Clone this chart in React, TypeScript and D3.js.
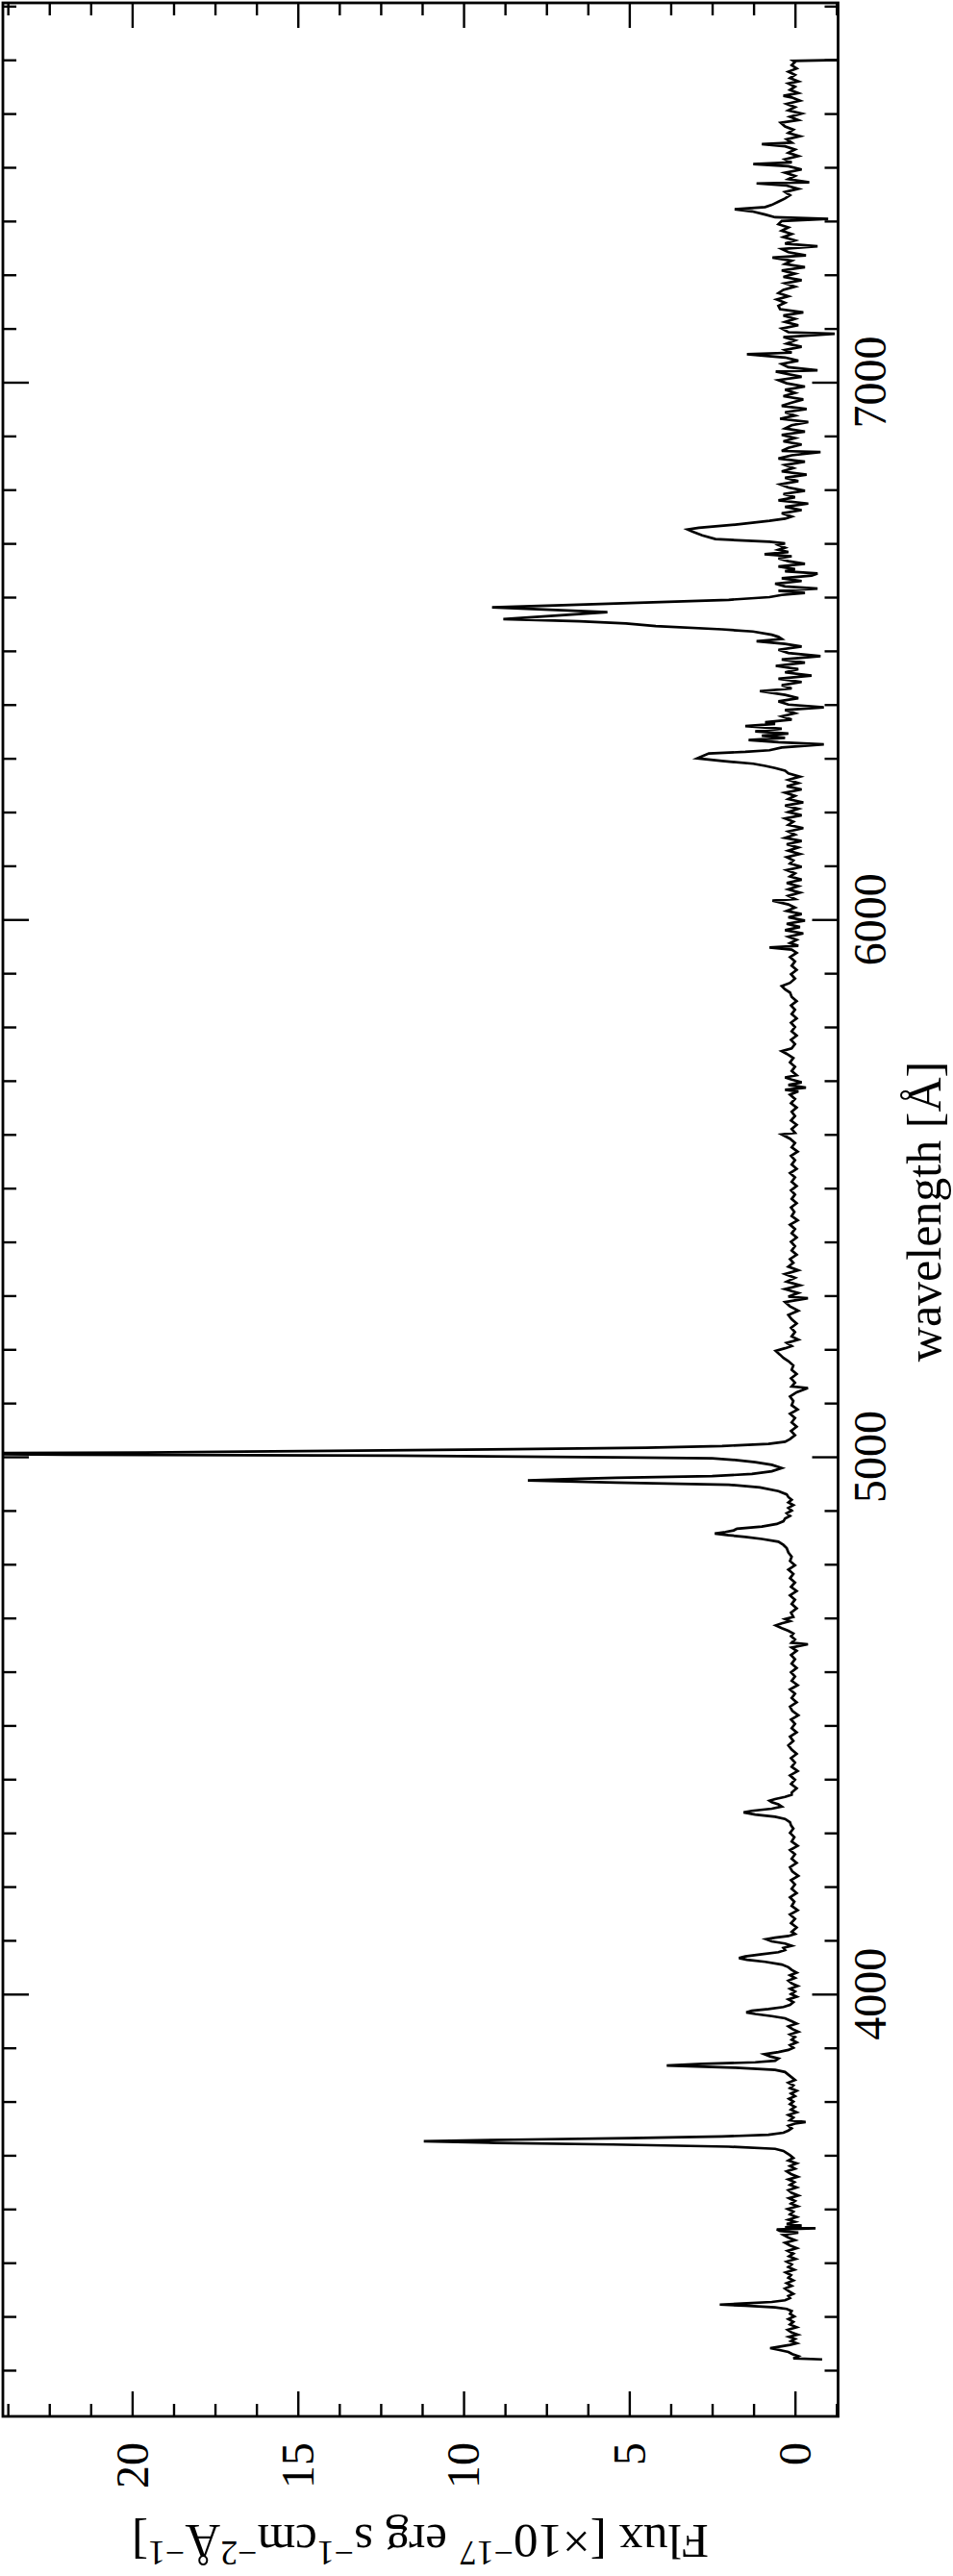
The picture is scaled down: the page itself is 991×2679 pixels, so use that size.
import { useEffect, useRef } from "react";
import * as d3 from "d3";

// spectrum: [wavelength (Å), flux (1e-17 erg/s/cm2/Å)]
const spectrumUV: [number, number][] = [
  [3320, -0.82], [3322, 0.05], [3326, -0.1], [3330, 0.08], [3334, 0.2], [3338, 0.5], [3341, 0.75], [3344, 0.45],
  [3347, 0.15], [3350, -0.05], [3354, 0.12], [3358, 0.0], [3362, 0.18], [3366, -0.08], [3370, 0.1], [3375, 0.22],
  [3380, -0.05], [3385, 0.15], [3390, 0.05], [3395, 0.2], [3400, 0.02], [3405, 0.15], [3410, 0.1], [3414, 0.25],
  [3417, 0.6], [3420, 1.5], [3422, 2.27], [3424, 1.6], [3427, 0.7], [3430, 0.3], [3434, 0.15], [3438, 0.2],
  [3442, 0.05], [3447, 0.18], [3452, 0.3], [3457, 0.1], [3462, 0.25], [3467, 0.05], [3472, 0.2], [3477, 0.12],
  [3482, 0.28], [3487, 0.02], [3492, 0.2], [3497, 0.1], [3502, 0.25], [3507, -0.02], [3512, 0.18], [3517, 0.05],
  [3522, 0.22], [3527, -0.05], [3532, 0.15], [3537, 0.3], [3542, 0.0], [3547, 0.2], [3552, 0.35], [3556, -0.1],
  [3559, 0.45], [3562, 0.55], [3564, -0.62], [3566, 0.3], [3569, -0.2], [3572, 0.25], [3576, 0.0], [3580, 0.2],
  [3585, -0.05], [3590, 0.15], [3595, 0.05], [3600, 0.22], [3605, -0.08], [3610, 0.12], [3615, 0.0], [3620, 0.18],
  [3625, -0.1], [3630, 0.1], [3635, 0.2], [3640, -0.05], [3645, 0.15], [3650, 0.02], [3655, 0.2], [3660, -0.08],
  [3665, 0.12], [3670, 0.25], [3675, 0.0], [3680, 0.15], [3685, -0.05], [3690, 0.2], [3695, 0.05], [3700, 0.15],
  [3704, 0.25], [3708, 0.35], [3712, 0.6], [3716, 2.0], [3720, 5.5], [3723, 9.0], [3726, 11.2], [3729, 8.5],
  [3732, 5.0], [3735, 2.2], [3738, 0.8], [3742, 0.35], [3746, 0.2],
];

const spectrumBlue: [number, number][] = [
  [3750, 0.1], [3755, 0.2], [3759, 0.0], [3762, -0.32], [3765, 0.15], [3770, 0.05], [3775, 0.2], [3780, -0.05],
  [3785, 0.12], [3790, 0.0], [3795, 0.15], [3800, 0.05], [3805, 0.18], [3810, 0.0], [3815, 0.12], [3820, -0.05],
  [3825, 0.15], [3830, 0.05], [3835, 0.2], [3840, 0.0], [3845, 0.1], [3850, 0.2], [3855, 0.3], [3859, 0.6],
  [3863, 1.8], [3867, 3.87], [3870, 2.8], [3873, 1.2], [3876, 0.6], [3880, 0.5], [3884, 0.75], [3888, 0.92],
  [3892, 0.5], [3896, 0.2], [3900, 0.05], [3905, 0.15], [3910, -0.05], [3915, 0.1], [3920, 0.0], [3925, 0.15],
  [3930, -0.1], [3935, 0.08], [3940, 0.2], [3945, -0.05], [3950, 0.12], [3955, 0.3], [3959, 0.7], [3963, 1.2],
  [3966, 1.47], [3969, 1.3], [3972, 0.8], [3976, 0.35], [3980, 0.15], [3985, 0.05], [3990, 0.2], [3995, -0.05],
  [4000, 0.12], [4005, 0.0], [4010, 0.15], [4015, -0.08], [4020, 0.1], [4025, 0.2], [4030, 0.0], [4035, 0.15],
  [4040, -0.05], [4045, 0.1], [4050, 0.2], [4055, 0.4], [4060, 0.9], [4064, 1.45], [4067, 1.69], [4070, 1.5],
  [4074, 1.0], [4078, 0.5], [4082, 0.3], [4086, 0.35], [4090, 0.1], [4094, 0.3], [4098, 0.7], [4102, 0.87],
  [4105, 0.6], [4108, 0.2], [4112, 0.0], [4116, 0.1], [4124, -0.05], [4132, 0.12], [4140, 0.0], [4148, 0.15],
  [4156, -0.08], [4164, 0.1], [4172, 0.02], [4180, 0.15], [4188, -0.05], [4196, 0.1], [4204, 0.0], [4212, 0.12],
  [4220, -0.1], [4228, 0.08], [4236, 0.15], [4244, -0.05], [4252, 0.1], [4260, 0.0], [4268, 0.15], [4276, -0.08],
  [4284, 0.1], [4292, 0.02], [4300, 0.15], [4308, 0.05], [4314, 0.12], [4320, 0.15], [4326, 0.3], [4330, 0.6],
  [4334, 1.2], [4338, 1.55], [4341, 1.3], [4345, 0.7], [4349, 0.4], [4353, 0.5], [4357, 0.7], [4360, 0.77],
  [4363, 0.6], [4367, 0.3], [4371, 0.1], [4375, 0.1], [4383, -0.05], [4391, 0.12], [4399, 0.0], [4407, 0.15],
  [4415, -0.08], [4423, 0.1], [4431, 0.0], [4439, 0.12], [4447, -0.05], [4455, 0.1], [4463, 0.2], [4471, 0.05],
  [4479, 0.15], [4487, -0.05], [4495, 0.1], [4503, 0.0], [4511, 0.12], [4519, -0.1], [4527, 0.08], [4535, 0.15],
  [4543, -0.05], [4551, 0.1], [4559, 0.0], [4567, 0.15], [4575, -0.08], [4583, 0.1], [4591, 0.0], [4599, 0.12],
  [4607, -0.05], [4615, 0.1], [4623, 0.0], [4631, 0.12], [4639, -0.05], [4645, 0.1], [4651, -0.39], [4654, 0.1],
  [4660, 0.0], [4666, 0.12], [4671, 0.05], [4676, 0.2], [4681, 0.4], [4686, 0.58], [4690, 0.4], [4694, 0.15],
  [4698, 0.3], [4702, 0.05], [4710, 0.12], [4718, -0.05], [4726, 0.1], [4734, 0.0], [4742, 0.15], [4750, -0.05],
  [4758, 0.12], [4766, 0.0], [4774, 0.15], [4782, 0.05], [4790, 0.2], [4798, 0.0], [4806, 0.15], [4814, 0.1],
  [4822, 0.2],
];

const spectrumGreen: [number, number][] = [
  [4830, 0.25], [4836, 0.35], [4842, 0.5], [4847, 1.0], [4851, 1.5], [4854, 2.0], [4857, 2.42], [4860, 2.1],
  [4863, 1.85], [4866, 1.75], [4870, 1.0], [4875, 0.55], [4880, 0.35], [4885, 0.3], [4890, 0.15], [4895, 0.25],
  [4900, 0.1], [4905, 0.2], [4910, 0.05], [4915, 0.2], [4920, 0.1], [4925, 0.2], [4930, 0.25], [4936, 0.5],
  [4943, 1.06], [4948, 2.0], [4952, 5.4], [4956, 8.06], [4959, 6.5], [4961, 5.4], [4964, 2.5], [4968, 1.3],
  [4973, 0.7], [4979, 0.4], [4985, 0.7], [4990, 1.2], [4994, 1.8], [4997, 2.5], [4999, 5.4], [5002, 12],
  [5004, 22], [5006, 27], [5008, 19.6], [5011, 14], [5014, 8.5], [5017, 4.5], [5020, 2.2], [5024, 0.8],
  [5028, 0.3], [5033, 0.15], [5040, 0.0], [5048, 0.12], [5056, -0.05], [5064, 0.1], [5072, 0.0], [5080, 0.15],
  [5088, -0.08], [5096, 0.1], [5104, 0.05], [5112, 0.15], [5120, -0.05], [5128, -0.39], [5131, 0.1], [5138, 0.0],
  [5146, 0.12], [5154, -0.05], [5162, 0.1], [5170, 0.05], [5178, 0.2], [5184, 0.35], [5190, 0.45], [5197, 0.58],
  [5202, 0.3], [5206, 0.1], [5212, 0.25], [5218, -0.1], [5224, 0.1], [5232, 0.0], [5240, 0.12], [5248, -0.05],
  [5256, 0.1], [5264, 0.2], [5272, -0.1], [5280, 0.15], [5288, 0.3], [5295, -0.39], [5298, 0.2], [5305, -0.1],
  [5312, 0.3], [5319, -0.15], [5326, 0.25], [5333, 0.0], [5340, 0.3], [5347, -0.1], [5354, 0.2], [5361, 0.05],
  [5368, 0.15], [5376, -0.05], [5384, 0.1], [5392, 0.0], [5400, 0.12], [5408, -0.05], [5416, 0.1], [5424, 0.0],
  [5432, 0.15], [5440, -0.08], [5448, 0.1], [5456, 0.02], [5464, 0.12], [5472, -0.05], [5480, 0.1], [5488, 0.0],
  [5496, 0.12], [5504, -0.05], [5512, 0.1], [5520, 0.0], [5528, 0.15], [5536, -0.05], [5544, 0.1], [5552, 0.0],
  [5560, 0.12], [5568, -0.08], [5576, 0.1], [5584, 0.0], [5592, 0.15], [5600, 0.4], [5603, 0.0], [5610, 0.1],
  [5618, -0.05], [5626, 0.12], [5634, 0.0], [5642, 0.1], [5650, -0.05], [5658, 0.12], [5666, 0.0], [5674, 0.15],
  [5680, -0.1], [5683, 0.3], [5687, -0.33], [5692, 0.2], [5697, -0.2], [5702, 0.1], [5706, 0.3], [5710, -0.05],
  [5718, 0.1], [5726, 0.0], [5734, 0.15], [5742, 0.05], [5750, 0.25], [5755, 0.4], [5760, 0.1], [5768, 0.0],
  [5776, 0.12], [5784, -0.05], [5792, 0.1], [5800, 0.0], [5808, 0.12], [5816, -0.05], [5824, 0.1], [5832, 0.0],
  [5840, 0.12], [5848, -0.05], [5856, 0.1], [5864, 0.15], [5870, 0.3], [5876, 0.4], [5882, 0.15], [5890, 0.0],
  [5898, 0.12], [5906, -0.05], [5914, 0.1], [5922, 0.0], [5930, 0.15], [5938, -0.05], [5944, 0.1], [5948, 0.77],
  [5951, -0.1], [5956, 0.15], [5962, -0.05], [5968, 0.2], [5974, -0.25], [5980, 0.3], [5986, -0.15], [5992, 0.25],
  [5998, -0.3], [6004, 0.2], [6010, -0.2], [6016, 0.25], [6022, 0.0], [6028, 0.2], [6035, 0.68],
];

const spectrumRed: [number, number][] = [
  [6038, 0.0], [6044, 0.2], [6050, -0.15], [6056, 0.2], [6062, -0.1], [6068, 0.25], [6074, -0.2], [6080, 0.15],
  [6086, 0.0], [6092, 0.25], [6098, -0.2], [6104, 0.15], [6110, 0.05], [6116, 0.25], [6122, -0.15], [6128, 0.2],
  [6134, -0.1], [6140, 0.25], [6146, -0.2], [6152, 0.3], [6158, 0.0], [6164, 0.2], [6170, -0.25], [6176, 0.2],
  [6182, 0.05], [6188, 0.3], [6194, -0.2], [6200, 0.2], [6206, -0.1], [6212, 0.3], [6218, -0.25], [6224, 0.2],
  [6230, 0.0], [6236, 0.3], [6242, -0.2], [6248, 0.25], [6254, -0.1], [6260, 0.2], [6266, -0.15], [6272, 0.2],
  [6277, 0.3], [6282, 0.6], [6286, 0.9], [6290, 1.26], [6295, 2.2], [6300, 2.95], [6304, 2.8], [6309, 2.6],
  [6312, 1.5], [6315, 0.77], [6320, 0.4], [6326, -0.87], [6330, 0.5], [6334, 1.4], [6338, 0.3], [6342, 1.0],
  [6346, 0.2], [6350, 1.2], [6355, 0.4], [6360, 1.5], [6364, 0.6], [6367, 0.9], [6372, 0.1], [6378, 0.4],
  [6384, 0.0], [6390, 0.3], [6395, -0.87], [6400, 0.2], [6406, 0.5], [6412, -0.1], [6418, 0.3], [6425, 1.06],
  [6430, 0.1], [6436, 0.4], [6442, -0.2], [6448, 0.5], [6454, -0.5], [6460, 0.3], [6466, -0.1], [6472, 0.58],
  [6478, -0.3], [6484, 0.4], [6490, -0.77], [6496, 0.2], [6502, 0.5], [6508, -0.2], [6513, 0.3], [6518, 1.16],
  [6522, 0.4], [6526, 0.5], [6530, 0.7], [6536, 1.27], [6540, 2.2], [6546, 4.2], [6551, 5.1], [6555, 6.5],
  [6559, 8.8], [6572, 5.66], [6581, 9.14], [6585, 7.0], [6590, 4.5], [6595, 2.0], [6600, 0.77], [6604, 0.4],
  [6608, -0.3], [6612, 0.5], [6616, -0.68], [6620, 0.3], [6625, 0.6], [6630, -0.2], [6635, 0.4], [6640, -0.5],
  [6644, -0.68], [6648, 0.3], [6652, 0.0], [6657, 0.5], [6662, -0.3], [6667, 0.2], [6672, 0.5], [6676, 0.1],
  [6680, 0.92], [6684, 0.2], [6688, 0.5], [6692, 0.3], [6697, 0.5], [6700, 0.3], [6703, 0.77], [6708, 2.4],
  [6715, 2.8], [6722, 3.1], [6726, 3.24], [6729, 2.9], [6735, 1.8], [6742, 0.77], [6746, 0.3], [6750, 0.1],
  [6756, 0.4], [6762, -0.2], [6768, 0.3], [6774, -0.4], [6780, 0.5], [6786, 0.0], [6792, 0.35], [6798, -0.3],
  [6804, 0.2], [6810, 0.45], [6816, -0.1], [6822, 0.3], [6828, -0.35], [6834, 0.4], [6840, 0.05], [6846, 0.3],
  [6852, -0.3], [6858, 0.5], [6864, 0.1], [6870, -0.77], [6872, 0.4], [6878, 0.2], [6884, -0.2], [6890, 0.35],
  [6896, 0.0], [6902, 0.4], [6908, -0.3], [6914, 0.3], [6920, 0.1], [6926, -0.4], [6932, 0.45], [6938, 0.0],
  [6944, 0.3], [6950, -0.35], [6956, 0.4], [6962, 0.1], [6968, -0.25], [6974, 0.35], [6980, 0.0], [6986, 0.3],
  [6992, -0.3], [6998, 0.25], [7004, 0.5], [7010, -0.2], [7016, 0.3], [7020, 0.58], [7022, -0.68], [7028, 0.2],
  [7034, 0.4], [7040, -0.1], [7046, 0.3], [7052, 1.45], [7055, 0.1], [7060, 0.3], [7066, -0.2], [7072, 0.25],
  [7078, 0.0], [7084, 0.35], [7090, -1.2], [7093, 0.2], [7100, 0.4], [7106, -0.1], [7112, 0.3], [7118, 0.0],
  [7124, 0.35], [7130, -0.25], [7136, 0.45], [7142, 0.5], [7148, 0.3], [7154, 0.55], [7160, 0.2], [7166, 0.5],
  [7172, 0.35], [7178, 0.0], [7184, 0.3], [7190, -0.2], [7196, 0.35], [7202, 0.0], [7208, 0.4], [7214, -0.3],
  [7220, 0.3], [7226, 0.1], [7232, 0.68], [7236, -0.33], [7242, 0.2], [7248, 0.4], [7253, -0.68], [7258, 0.3],
  [7264, 0.0], [7270, 0.35], [7276, 0.1], [7282, 0.4], [7288, 0.2], [7294, 0.5], [7300, 0.4], [7304, -1.0],
  [7307, 0.6], [7312, 0.9], [7318, 1.3], [7322, 1.82], [7326, 0.9], [7330, 0.7], [7336, 0.5], [7342, 0.3],
  [7348, 0.15], [7354, 0.3], [7360, -0.1], [7366, 0.25], [7370, 1.16], [7372, -0.43], [7378, 0.2], [7384, 0.0],
  [7390, 0.3], [7396, -0.2], [7402, 0.2], [7406, 1.26], [7409, 0.1], [7415, 0.3], [7421, -0.1], [7427, 0.2],
  [7433, 0.0], [7439, 0.3], [7443, 1.0], [7446, 0.1], [7452, 0.25], [7458, -0.15], [7464, 0.2], [7470, 0.05],
  [7476, 0.3], [7483, 0.43], [7488, -0.1], [7494, 0.15], [7500, -0.2], [7506, 0.2], [7512, 0.0], [7518, 0.25],
  [7524, -0.15], [7530, 0.1], [7533, 0.35], [7538, -0.1], [7544, 0.15], [7550, 0.0], [7556, 0.2], [7560, -0.1],
  [7566, 0.15], [7572, 0.0], [7578, 0.2], [7584, -0.05], [7590, 0.1], [7596, 0.0], [7598, 0.05], [7600, -1.5],
];

const wavelengthLabels = [4000, 5000, 6000, 7000];
const wavelengthMinor = [
  3300, 3400, 3500, 3600, 3700, 3800, 3900, 4100, 4200, 4300, 4400, 4500, 4600, 4700, 4800, 4900,
  5100, 5200, 5300, 5400, 5500, 5600, 5700, 5800, 5900, 6100, 6200, 6300, 6400, 6500, 6600, 6700,
  6800, 6900, 7100, 7200, 7300, 7400, 7500, 7600, 7700,
];
const fluxLabels = [0, 5, 10, 15, 20];
const fluxMinor = [-1.25, 1.25, 2.5, 3.75, 6.25, 7.5, 8.75, 11.25, 12.5, 13.75, 16.25, 17.5, 18.75, 21.25, 22.5, 23.75];

const W = 991;
const H = 2679;
const frame = { left: 3, right: 871.5, top: 3, bottom: 2513 };
const font = "'Liberation Serif', 'Times New Roman', serif";

export default function App() {
  const ref = useRef<SVGSVGElement>(null);

  useEffect(() => {
    const svg = d3.select(ref.current);
    svg.selectAll("*").remove();

    // rotated plot: wavelength runs up the page, flux runs right-to-left
    const yWave = d3.scaleLinear().domain([3214, 7706]).range([frame.bottom, frame.top]);
    const xFlux = d3.scaleLinear().domain([-1.3, 23.9]).range([frame.right, frame.left]);

    svg.append("rect").attr("width", W).attr("height", H).attr("fill", "#fff");

    svg
      .append("defs")
      .append("clipPath")
      .attr("id", "plot-clip")
      .append("rect")
      .attr("x", frame.left)
      .attr("y", frame.top)
      .attr("width", frame.right - frame.left)
      .attr("height", frame.bottom - frame.top);

    const spectrum = [...spectrumUV, ...spectrumBlue, ...spectrumGreen, ...spectrumRed];
    const line = d3
      .line<[number, number]>()
      .x((d) => xFlux(d[1]))
      .y((d) => yWave(d[0]));

    svg
      .append("path")
      .datum(spectrum)
      .attr("clip-path", "url(#plot-clip)")
      .attr("d", line)
      .attr("fill", "none")
      .attr("stroke", "#000")
      .attr("stroke-width", 2.7);

    const ticks = svg.append("g");
    const drawAxis = (axis: any, transform: string) => {
      const g = ticks.append("g").attr("transform", transform).call(axis);
      g.select(".domain").remove();
      g.selectAll("text").remove();
      g.selectAll("line").attr("stroke", "#000").attr("stroke-width", 2.4);
    };

    // wavelength ticks, right and left frame, pointing inward
    drawAxis(d3.axisRight(yWave).tickValues(wavelengthMinor).tickSize(-14), `translate(${frame.right},0)`);
    drawAxis(d3.axisRight(yWave).tickValues(wavelengthLabels).tickSize(-27), `translate(${frame.right},0)`);
    drawAxis(d3.axisLeft(yWave).tickValues(wavelengthMinor).tickSize(-14), `translate(${frame.left},0)`);
    drawAxis(d3.axisLeft(yWave).tickValues(wavelengthLabels).tickSize(-27), `translate(${frame.left},0)`);

    // flux ticks, bottom and top frame
    drawAxis(d3.axisBottom(xFlux).tickValues(fluxMinor).tickSize(-13), `translate(0,${frame.bottom})`);
    drawAxis(d3.axisBottom(xFlux).tickValues(fluxLabels).tickSize(-26), `translate(0,${frame.bottom})`);
    drawAxis(d3.axisTop(xFlux).tickValues(fluxMinor).tickSize(-13), `translate(0,${frame.top})`);
    drawAxis(d3.axisTop(xFlux).tickValues(fluxLabels).tickSize(-26), `translate(0,${frame.top})`);

    svg
      .append("rect")
      .attr("x", frame.left)
      .attr("y", frame.top)
      .attr("width", frame.right - frame.left)
      .attr("height", frame.bottom - frame.top)
      .attr("fill", "none")
      .attr("stroke", "#000")
      .attr("stroke-width", 2.8);

    // wavelength tick labels
    svg
      .append("g")
      .selectAll("text")
      .data(wavelengthLabels)
      .join("text")
      .attr("x", 921)
      .attr("y", (d) => yWave(d))
      .attr("transform", (d) => `rotate(-90, 921, ${yWave(d)})`)
      .attr("text-anchor", "middle")
      .attr("font-family", font)
      .attr("font-size", 48)
      .text((d) => d);

    // flux tick labels
    svg
      .append("g")
      .selectAll("text")
      .data(fluxLabels)
      .join("text")
      .attr("x", (d) => xFlux(d))
      .attr("y", 2540)
      .attr("dy", "0.34em")
      .attr("transform", (d) => `rotate(-90, ${xFlux(d)}, 2540)`)
      .attr("text-anchor", "end")
      .attr("font-family", font)
      .attr("font-size", 48)
      .text((d) => d);

    // wavelength title
    svg
      .append("text")
      .attr("x", 978)
      .attr("y", 1260)
      .attr("transform", "rotate(-90, 978, 1260)")
      .attr("text-anchor", "middle")
      .attr("font-family", font)
      .attr("font-size", 50)
      .text("wavelength [Å]");

    // flux title, upside down
    const titleY = 2626;
    const title = svg
      .append("text")
      .attr("x", 437)
      .attr("y", titleY)
      .attr("transform", `rotate(180, 437, ${titleY})`)
      .attr("text-anchor", "middle")
      .attr("font-family", font)
      .attr("font-size", 51);
    const parts: [string, boolean][] = [
      ["Flux [×10", false],
      ["−17", true],
      [" erg s", false],
      ["−1", true],
      ["cm", false],
      ["−2", true],
      ["Å", false],
      ["−1", true],
      ["]", false],
    ];
    let raised = false;
    parts.forEach(([s, sup]) => {
      const t = title.append("tspan").text(s);
      if (sup) {
        t.attr("font-size", 36).attr("dy", raised ? 0 : -17);
        raised = true;
      } else {
        t.attr("dy", raised ? 17 : 0);
        raised = false;
      }
    });
  }, []);

  return (
    <svg
      ref={ref}
      width={W}
      height={H}
      style={{ position: "absolute", left: 0, top: 0, display: "block" }}
    />
  );
}
